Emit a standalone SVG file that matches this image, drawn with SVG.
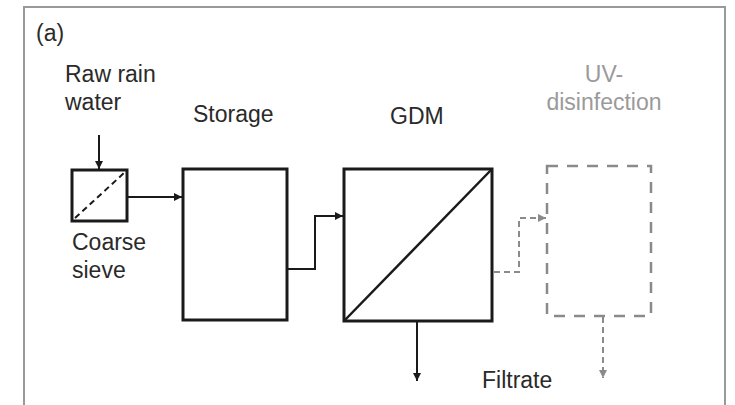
<svg xmlns="http://www.w3.org/2000/svg" width="735" height="405" viewBox="0 0 735 405">
<defs>
<style>
text{font-family:"Liberation Sans",Arial,sans-serif;font-size:23px;fill:#2a2a2a}
.gray{fill:#9a9a9a}
.box{fill:#fff;stroke:#1a1a1a;stroke-width:3}
.line{fill:none;stroke:#1a1a1a;stroke-width:2}
.dline{fill:none;stroke:#8a8a8a;stroke-width:2;stroke-dasharray:6 4}
.dbox{fill:none;stroke:#8a8a8a;stroke-width:2.5;stroke-dasharray:11 9}
</style>
<marker id="ab" viewBox="0 0 10 10" refX="10" refY="5" markerWidth="8" markerHeight="8" markerUnits="userSpaceOnUse" orient="auto"><path d="M0,0 L10,5 L0,10 Z" fill="#1a1a1a"/></marker>
<marker id="ag" viewBox="0 0 10 10" refX="10" refY="5" markerWidth="8" markerHeight="8" markerUnits="userSpaceOnUse" orient="auto"><path d="M0,0 L10,5 L0,10 Z" fill="#8a8a8a"/></marker>
</defs>
<rect x="24" y="7" width="701" height="430" fill="#fff" stroke="#999" stroke-width="2"/>
<text x="36" y="41">(a)</text>
<g id="connectors">
<path class="line" d="M99,135 V169" marker-end="url(#ab)"/>
<path class="line" d="M127,197 H182" marker-end="url(#ab)"/>
<path class="line" d="M287,269 H315 V216 H343" marker-end="url(#ab)"/>
<path class="line" d="M417,322 V381" marker-end="url(#ab)"/>
<path class="dline" d="M494,272 H519 V218 H546" marker-end="url(#ag)"/>
<path class="dline" d="M603,317 V378" marker-end="url(#ag)"/>
</g>
<g id="sieve">
<rect class="box" x="72" y="170" width="55" height="51"/>
<path d="M75,218 L124,173" fill="none" stroke="#1a1a1a" stroke-width="2" stroke-dasharray="6 4"/>
<text x="65" y="82">Raw rain</text>
<text x="65" y="110">water</text>
<text x="72" y="250">Coarse</text>
<text x="72" y="278">sieve</text>
</g>
<g id="storage">
<rect class="box" x="183" y="169" width="104" height="151"/>
<text x="193" y="122">Storage</text>
</g>
<g id="gdm">
<rect class="box" x="344" y="169" width="148" height="152"/>
<path d="M344,321 L492,169" fill="none" stroke="#1a1a1a" stroke-width="2.5"/>
<text x="390" y="124">GDM</text>
</g>
<g id="uv">
<rect class="dbox" x="547" y="166" width="104" height="150"/>
<text class="gray" x="604" y="82" text-anchor="middle">UV-</text>
<text class="gray" x="604" y="110" text-anchor="middle">disinfection</text>
</g>
<g id="filtrate">
<text x="482" y="388">Filtrate</text>
</g>
</svg>
